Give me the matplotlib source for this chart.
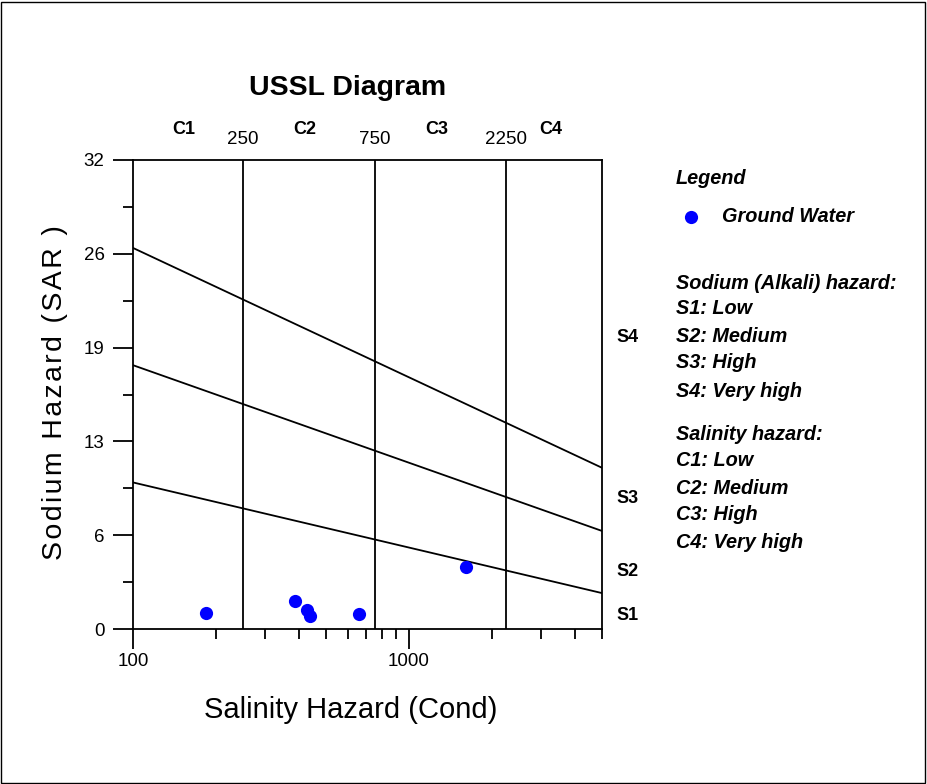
import matplotlib
matplotlib.use("Agg")
import matplotlib.pyplot as plt
from matplotlib.ticker import FixedLocator, NullFormatter, LogLocator
from matplotlib.transforms import blended_transform_factory
from matplotlib.patches import Rectangle

plt.rcParams["font.family"] = ["Liberation Sans", "DejaVu Sans"]

# Ground water samples: conductivity and SAR
cond = [184, 386, 426, 438, 661, 1605]
sar = [1.07, 1.93, 1.30, 0.91, 1.00, 4.21]

# Salinity class boundaries
c_bounds = [250, 750, 2250]
c_labels = ["C1", "C2", "C3", "C4"]
c_label_x = [158, 433, 1299, 3354]

# Sodium hazard boundary lines, SAR at the ends of the cond range
x_ends = [100, 5000]
s_lines = [
    [10.0, 2.45],
    [18.0, 6.69],
    [26.0, 11.0],
]
s_labels = ["S1", "S2", "S3", "S4"]
s_label_y = [0.89, 3.9, 8.87, 19.9]

y_major = [0, 6.4, 12.8, 19.2, 25.6, 32]
y_major_labels = ["0", "6", "13", "19", "26", "32"]
y_minor = [3.2, 9.6, 16.0, 22.4, 28.8]

legend_lines = [
    ("Sodium (Alkali) hazard:", 283),
    ("S1: Low", 309),
    ("S2: Medium", 336),
    ("S3: High", 363),
    ("S4: Very high", 391),
    ("Salinity hazard:", 434),
    ("C1: Low", 461),
    ("C2: Medium", 488),
    ("C3: High", 515),
    ("C4: Very high", 543),
]

W, H = 927, 784
fig = plt.figure(figsize=(W / 100, H / 100), dpi=100)
fig.patches.append(Rectangle((0.001, 0.001), 0.997, 0.997, transform=fig.transFigure,
                             fill=False, edgecolor="black", linewidth=1.0))

ax = fig.add_axes([133 / W, 1 - 629 / H, 469 / W, 469 / H])
ax.set_xscale("log")
ax.set_xlim(100, 5000)
ax.set_ylim(0, 32)

for c in c_bounds:
    ax.axvline(c, color="black", linewidth=1.3)
for line in s_lines:
    ax.plot(x_ends, line, color="black", linewidth=1.3)

ax.plot(cond, sar, "o", color="#0000ff", markersize=9.5, markeredgewidth=0,
        clip_on=False, zorder=5)

for sp in ax.spines.values():
    sp.set_linewidth(1.3)

ax.yaxis.set_major_locator(FixedLocator(y_major))
ax.set_yticklabels(y_major_labels)
ax.yaxis.set_minor_locator(FixedLocator(y_minor))
ax.xaxis.set_major_locator(LogLocator(base=10))
ax.xaxis.set_minor_locator(LogLocator(base=10, subs=range(2, 10)))
ax.xaxis.set_minor_formatter(NullFormatter())
ax.set_xticks([100, 1000])
ax.set_xticklabels(["100", "1000"])
ax.tick_params(which="major", direction="out", length=14.5, width=1.3, labelsize=13.5)
ax.tick_params(axis="y", which="major", pad=6)
ax.tick_params(axis="x", which="major", pad=3)
ax.tick_params(which="minor", direction="out", length=7.5, width=1.3)

trans = blended_transform_factory(ax.transData, ax.transAxes)
for c in c_bounds:
    ax.text(c, 1.026, str(c), transform=trans, ha="center", va="bottom", fontsize=13.5)
for x, lab in zip(c_label_x, c_labels):
    ax.text(x * 0.97, 1.047, lab, transform=trans, ha="center", va="bottom",
            fontsize=13, fontweight="bold")

trans_s = blended_transform_factory(ax.transAxes, ax.transData)
for y, lab in zip(s_label_y, s_labels):
    ax.text(1.031, y, lab, transform=trans_s, ha="left", va="center",
            fontsize=13, fontweight="bold")

fig.text(348 / W, 1 - 88 / H, "USSL Diagram", ha="center", va="center",
         fontsize=20.5, fontweight="bold")
fig.text(351 / W, 1 - 710 / H, "Salinity Hazard (Cond)", ha="center", va="center",
         fontsize=21)
# spaced-out lettering on the SAR axis title
ylab = "\u200a".join("Sodium Hazard (SAR )")
fig.text(55 / W, 1 - 393 / H, ylab, ha="center", va="center",
         rotation=90, fontsize=20.5)

# Legend block on the right
fig.text(676 / W, 1 - 178 / H, "Legend", ha="left", va="center",
         fontsize=14.3, fontweight="bold", style="italic")
fig.lines.append(plt.Line2D([691 / W], [1 - 217 / H], marker="o", color="#0000ff",
                            markersize=9.5, markeredgewidth=0, transform=fig.transFigure))
fig.text(722 / W, 1 - 217 / H, "Ground Water", ha="left", va="center",
         fontsize=14.3, fontweight="bold", style="italic")
for txt, y in legend_lines:
    fig.text(676 / W, 1 - y / H, txt, ha="left", va="center",
             fontsize=14.3, fontweight="bold", style="italic")

fig.savefig("out.png", dpi=100)
